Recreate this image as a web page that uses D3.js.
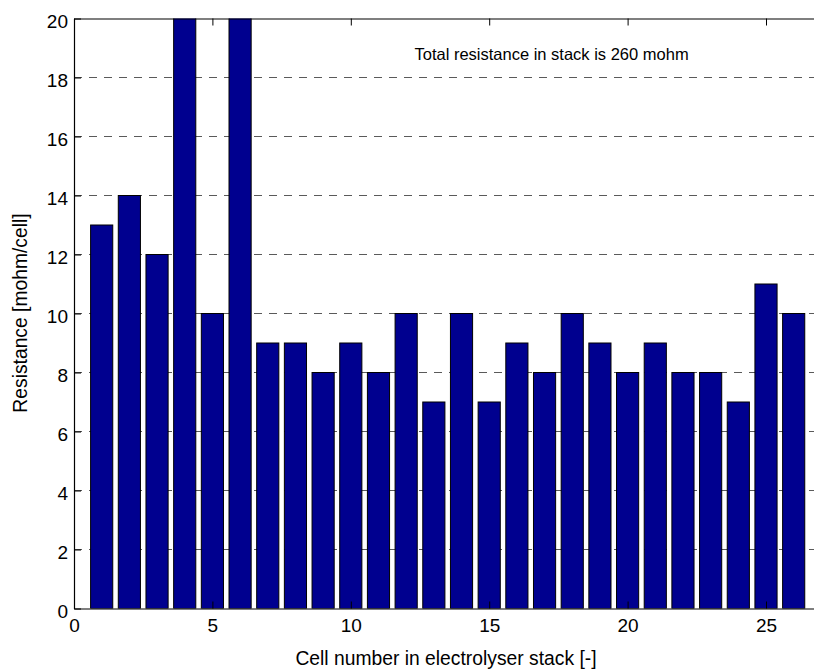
<!DOCTYPE html>
<html>
<head>
<meta charset="utf-8">
<script src="https://cdn.jsdelivr.net/npm/d3@7"></script>
<style>
  html, body { margin: 0; padding: 0; background: #fff; }
  svg { display: block; }
  text { font-family: "Liberation Sans", Arial, sans-serif; fill: #000; }
</style>
</head>
<body>
<svg id="chart" width="814" height="670"></svg>
<script>
// Per-cell resistance of the electrolyser stack [mohm/cell]
const cells = d3.range(1, 27);
const resistance = [13, 14, 12, 24, 10, 23, 9, 9, 8, 9, 8, 10, 7, 10, 7, 9, 8, 10, 9, 8, 9, 8, 8, 7, 11, 10];
const xTicks = [0, 5, 10, 15, 20, 25];
const yTicks = [0, 2, 4, 6, 8, 10, 12, 14, 16, 18, 20];
const annotation = "Total resistance in stack is 260 mohm";

const svg = d3.select("#chart");
const plotLeft = 74, plotTop = 18.5, plotBottom = 608.5;
const pxPerCell = 27.68;

const x = d3.scaleLinear().domain([0, 27]).range([plotLeft, plotLeft + 27 * pxPerCell]);
const y = d3.scaleLinear().domain([0, 20]).range([plotBottom, plotTop]);
const barW = 0.8;

svg.append("defs").append("clipPath").attr("id", "plot-clip")
  .append("rect")
  .attr("x", x(0)).attr("y", y(20))
  .attr("width", x(27) - x(0)).attr("height", y(0) - y(20));

// dashed horizontal grid
svg.append("g")
  .selectAll("line")
  .data(yTicks.filter(d => d > 0 && d < 20))
  .join("line")
  .attr("x1", x(0)).attr("x2", x(27))
  .attr("y1", d => y(d)).attr("y2", d => y(d))
  .attr("stroke", "#5a5a5a")
  .attr("stroke-width", 1)
  .attr("stroke-dasharray", "8,7")
  .attr("shape-rendering", "crispEdges");

// bars
svg.append("g")
  .attr("clip-path", "url(#plot-clip)")
  .selectAll("rect")
  .data(cells.map((c, i) => ({ c, v: resistance[i] })))
  .join("rect")
  .attr("x", d => x(d.c - barW / 2))
  .attr("width", d => x(d.c + barW / 2) - x(d.c - barW / 2))
  .attr("y", d => y(d.v))
  .attr("height", d => y(0) - y(d.v))
  .attr("fill", "#00008f")
  .attr("stroke", "#000")
  .attr("stroke-width", 1);

// axes, MATLAB-style: ticks inward, box on
const tickLen = 7;
const xAxis = d3.axisBottom(x).tickValues(xTicks).tickSize(-tickLen).tickPadding(10).tickSizeOuter(0);
const yAxis = d3.axisLeft(y).tickValues(yTicks).tickSize(-tickLen).tickPadding(6).tickSizeOuter(0);
const xAxisTop = d3.axisTop(x).tickValues(xTicks).tickSize(-tickLen).tickFormat("").tickSizeOuter(0);

const gx = svg.append("g").attr("transform", `translate(0,${plotBottom})`).call(xAxis);
const gy = svg.append("g").attr("transform", `translate(${plotLeft},0)`).call(yAxis);
const gt = svg.append("g").attr("transform", `translate(0,${plotTop})`).call(xAxisTop);

[gx, gy, gt].forEach(g => {
  g.select(".domain").attr("stroke", "#000").attr("stroke-width", 1.2);
  g.selectAll(".tick line").attr("stroke", "#000").attr("stroke-width", 1);
  g.selectAll(".tick text")
    .attr("font-family", "Liberation Sans, Arial, sans-serif")
    .attr("font-size", 19)
    .attr("fill", "#000");
});
gy.selectAll(".tick text").attr("dy", "0.45em");

// annotation inside the axes
svg.append("text")
  .attr("x", x(12.3))
  .attr("y", y(18.6))
  .attr("font-size", 16.5)
  .text(annotation);

// axis labels
svg.append("text")
  .attr("x", 446)
  .attr("y", 665)
  .attr("text-anchor", "middle")
  .attr("font-size", 19.3)
  .text("Cell number in electrolyser stack [-]");

svg.append("text")
  .attr("transform", `translate(27,${313}) rotate(-90)`)
  .attr("text-anchor", "middle")
  .attr("font-size", 19.3)
  .text("Resistance [mohm/cell]");
</script>
</body>
</html>
